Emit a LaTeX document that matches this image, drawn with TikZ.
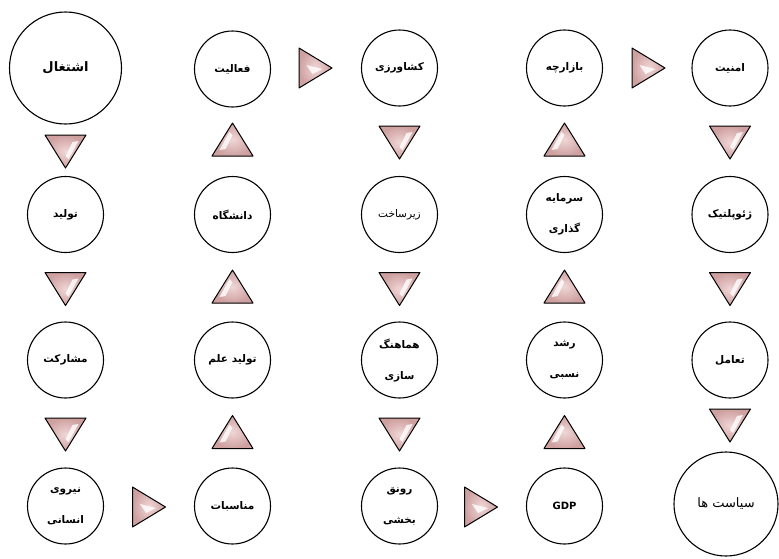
\documentclass[tikz,border=0pt]{standalone}
\usepackage{fontspec}
\TeXXeTstate=1
\newfontfamily\arabicfont[Script=Arabic]{DejaVu Sans}
\definecolor{triA}{RGB}{240,214,214}
\definecolor{triB}{RGB}{206,160,160}
\tikzset{
  bub/.style={circle, draw=black, line width=1.1pt, fill=white, minimum size=76pt, inner sep=0pt,
    font=\arabicfont\bfseries\fontsize{10.5}{31}\selectfont, align=center},
  bigbub/.style={bub, minimum size=112pt, font=\arabicfont\bfseries\fontsize{13}{15}\selectfont},
  pics/downtri/.style={code={
    \shadedraw[draw=black, line width=1pt, line join=round, inner color=triA, outer color=triB]
      (-20.5,16) -- (20.5,16) -- (0,-17) -- cycle;
    \fill[white, opacity=0.8] (13,10) -- (7,9) -- (0,-5) -- (3,-8) -- cycle;
  }},
  pics/righttri/.style={code={
    \shadedraw[draw=black, line width=1pt, line join=round, inner color=triA, outer color=triB]
      (-16.5,20) -- (-16.5,-20) -- (16.5,0) -- cycle;
    \fill[white, opacity=0.8] (-9,3) -- (7,-1) -- (-3,-6) -- cycle;
  }}
}
\newcommand{\rtl}[1]{\beginR #1\endR}
\begin{document}
\begin{tikzpicture}[x=1pt,y=1pt]
\useasboundingbox (0,0) rectangle (779,-558);
% row 1
\node[bigbub] (a1) at (65.5,-68) {\rtl{اشتغال}};
\node[bub] (a2) at (232.5,-69) {\rtl{فعالیت}};
\node[bub] (a3) at (399.5,-68) {\rtl{کشاورزی}};
\node[bub] (a4) at (564.5,-68) {\rtl{بازارچه}};
\node[bub] (a5) at (730,-68) {\rtl{امنیت}};
% row 2
\node[bub] (b1) at (65.5,-214.5) {\rtl{تولید}};
\node[bub] (b2) at (232.5,-214.5) {\rtl{دانشگاه}};
\node[bub, font=\arabicfont\fontsize{10.5}{31}\selectfont] (b3) at (399.5,-214.5) {\rtl{زیرساخت}};
\node[bub] (b4) at (564.5,-214.5) {\rtl{سرمایه}\\\rtl{گذاری}};
\node[bub] (b5) at (730,-214.5) {\rtl{ژئوپلتیک}};
% row 3
\node[bub] (c1) at (65.5,-360) {\rtl{مشارکت}};
\node[bub] (c2) at (232.5,-360) {\rtl{تولید علم}};
\node[bub] (c3) at (399.5,-360) {\rtl{هماهنگ}\\\rtl{سازی}};
\node[bub] (c4) at (564.5,-360) {\rtl{رشد}\\\rtl{نسبی}};
\node[bub] (c5) at (730,-360) {\rtl{تعامل}};
% row 4
\node[bub] (d1) at (65.5,-506) {\rtl{نیروی}\\\rtl{انسانی}};
\node[bub] (d2) at (232.5,-506) {\rtl{مناسبات}};
\node[bub] (d3) at (399.5,-506) {\rtl{رونق}\\\rtl{بخشی}};
\node[bub, font=\arabicfont\bfseries\fontsize{10}{12}\selectfont] (d4) at (564.5,-506) {GDP};
\node[bub, minimum size=104pt, font=\arabicfont\fontsize{13}{15}\selectfont] (d5) at (726,-504) {\rtl{سیاست ها}};
% triangles row 1-2
\pic at (65.5,-151) {downtri};
\pic[rotate=180] at (232.5,-140) {downtri};
\pic at (399.5,-142) {downtri};
\pic[rotate=180] at (564.5,-140) {downtri};
\pic at (730,-142) {downtri};
% row 2-3
\pic at (65.5,-288.5) {downtri};
\pic[rotate=180] at (232.5,-287) {downtri};
\pic at (399.5,-288.5) {downtri};
\pic[rotate=180] at (564.5,-287) {downtri};
\pic at (730,-288.5) {downtri};
% row 3-4
\pic at (65.5,-434) {downtri};
\pic[rotate=180] at (232.5,-432.5) {downtri};
\pic at (399.5,-434) {downtri};
\pic[rotate=180] at (564.5,-432.5) {downtri};
\pic at (730,-425) {downtri};
% right-pointing
\pic at (315.5,-68) {righttri};
\pic at (648.5,-68) {righttri};
\pic at (149,-507) {righttri};
\pic at (481,-507) {righttri};
\end{tikzpicture}
\end{document}
